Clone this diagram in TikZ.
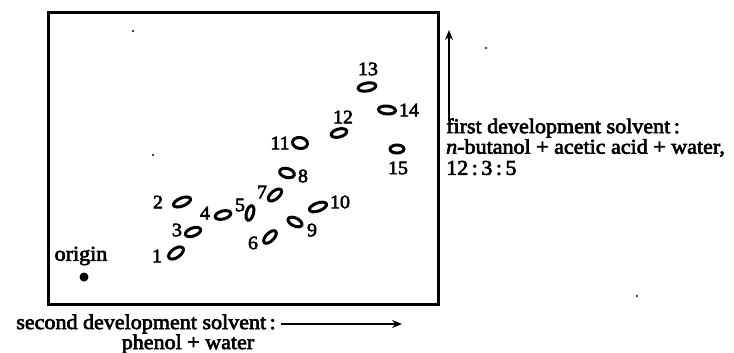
\documentclass[tikz,border=0pt]{standalone}
\usepackage{fontspec}
\setmainfont{Liberation Serif}[FakeStretch=1.05, FakeBold=3]
\usetikzlibrary{shapes.geometric,arrows.meta}
\begin{document}
\begin{tikzpicture}[x=1pt,y=-1pt,
  spot/.style={draw, ellipse, line width=3pt, minimum width=16pt, minimum height=8pt, inner sep=0pt},
  num/.style={font=\fontsize{19}{19}\selectfont, inner sep=0pt},
  txt/.style={font=\fontsize{21}{22}\selectfont, inner sep=0pt},
  speck/.style={fill, circle, inner sep=0pt, minimum size=2.2pt},
  axis/.style={line width=1.8pt, -{Stealth[length=10pt,width=8pt]}}]
\useasboundingbox (0,0) rectangle (734,353);
% plate
\node[draw, line width=3pt, minimum width=390pt, minimum height=292pt, inner sep=0pt, anchor=north west] (plate) at (47,11) {};
% origin
\node[fill, circle, minimum size=9pt, inner sep=0pt] (origin) at (84,277) {};
\node[txt] (originlbl) at (81,256) {origin};
% spots
\node[spot, rotate=35, minimum width=17pt, minimum height=9pt] (s1) at (176,253) {};
\node[spot, rotate=22, minimum width=18pt] (s2) at (182,202) {};
\node[spot, rotate=20] (s3) at (193,232) {};
\node[spot, rotate=15] (s4) at (223,215) {};
\node[spot, rotate=75, minimum width=15pt, minimum height=7pt] (s5) at (250,213) {};
\node[spot, rotate=45] (s6) at (270,237) {};
\node[spot, rotate=40] (s7) at (275,195) {};
\node[spot, rotate=-15, minimum width=15pt, minimum height=9pt] (s8) at (287,173) {};
\node[spot, rotate=-25, minimum width=15pt] (s9) at (295,222) {};
\node[spot, rotate=20, minimum width=18pt] (s10) at (318,207) {};
\node[spot, rotate=-10, minimum width=15pt, minimum height=11pt] (s11) at (300,143) {};
\node[spot, rotate=15] (s12) at (339,133) {};
\node[spot, rotate=10, minimum width=18pt] (s13) at (367,87) {};
\node[spot, rotate=-5, minimum width=17pt] (s14) at (387,110) {};
\node[spot, minimum width=14pt] (s15) at (397,149) {};
% spot numbers
\node[num] (n1) at (157,256) {1};
\node[num] (n2) at (158,202) {2};
\node[num] (n3) at (177,230) {3};
\node[num] (n4) at (205,213) {4};
\node[num] (n5) at (240,205) {5};
\node[num] (n6) at (253,243) {6};
\node[num] (n7) at (262,192) {7};
\node[num] (n8) at (303,176) {8};
\node[num] (n9) at (312,230) {9};
\node[num] (n10) at (340,202) {10};
\node[num] (n11) at (280,143) {11};
\node[num] (n12) at (343,117) {12};
\node[num] (n13) at (368,69) {13};
\node[num] (n14) at (409,110) {14};
\node[num] (n15) at (398,168) {15};
% specks
\node[speck] (k1) at (133,31) {};
\node[speck] (k2) at (153,155) {};
\node[speck] (k3) at (486,48) {};
\node[speck] (k4) at (637,296) {};
% first development direction
\coordinate (ua) at (449,121);
\coordinate (ub) at (449,30);
\draw[axis] (ua) -- (ub);
\node[txt, anchor=west] (first1) at (446,128) {first development solvent\,:};
\node[txt, anchor=west] (first2) at (446,148) {\textit{n}-butanol + acetic acid + water,};
\node[txt, anchor=west] (first3) at (446,168) {12\,:\,3\,:\,5};
% second development direction
\node[txt, anchor=east] (second1) at (276,324) {second development solvent\,:};
\node[txt] (second2) at (188,344) {phenol + water};
\coordinate (ra) at (281,324);
\coordinate (rb) at (402,324);
\draw[axis] (ra) -- (rb);
\end{tikzpicture}
\end{document}
